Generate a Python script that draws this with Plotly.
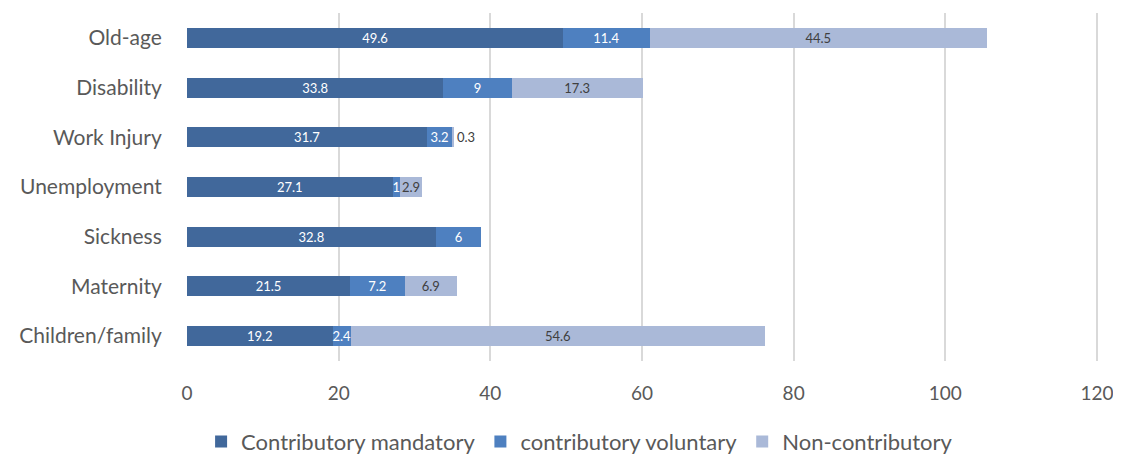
import plotly.graph_objects as go

categories = ["Old-age", "Disability", "Work Injury", "Unemployment", "Sickness", "Maternity", "Children/family"]
mandatory = [49.6, 33.8, 31.7, 27.1, 32.8, 21.5, 19.2]
voluntary = [11.4, 9, 3.2, 1, 6, 7.2, 2.4]
noncontrib = [44.5, 17.3, 0.3, 2.9, None, 6.9, 54.6]
x_ticks = [0, 20, 40, 60, 80, 100, 120]

series = [
    ("Contributory mandatory", mandatory, "#41689B", "white"),
    ("contributory voluntary", voluntary, "#4E80C0", "white"),
    ("Non-contributory", noncontrib, "#AAB9D8", "#404040"),
]

FONT = "Lato"
fig = go.Figure()
for i, (name, vals, color, tcol) in enumerate(series):
    if i == 2:
        tpos = ["outside" if (v is not None and v < 1) else "inside" for v in vals]
    else:
        tpos = "inside"
    fig.add_trace(go.Bar(
        y=categories, x=vals, name=name, orientation="h",
        marker=dict(color=color, line=dict(width=0)),
        text=[("" if v is None else f"{v:g}") for v in vals],
        textposition=tpos, insidetextanchor="middle", textangle=0,
        textfont=dict(color=tcol, size=13, family=FONT),
        outsidetextfont=dict(color="#404040", size=13, family=FONT),
        constraintext="none", cliponaxis=False,
    ))

# page body has an 8px margin; figure offset compensates
fig.update_layout(
    barmode="stack", bargap=0.6,
    width=1113, height=447,
    margin=dict(l=179, r=21, t=5, b=94, autoexpand=False),
    plot_bgcolor="white", paper_bgcolor="white",
    font=dict(family=FONT, color="#595959", size=21),
    uniformtext=dict(minsize=13, mode="show"),
    legend=dict(orientation="h", x=0.43, xanchor="center", y=-0.232, yanchor="middle",
                font=dict(size=22, color="#595959"), traceorder="normal",
                itemwidth=30, tracegroupgap=0),
    showlegend=True,
)
fig.update_xaxes(range=[0, 120.4], tickvals=x_ticks, showgrid=True, gridcolor="#D9D9D9",
                 gridwidth=2, zeroline=False, showline=False, automargin=False,
                 ticks="outside", ticklen=15, tickcolor="rgba(0,0,0,0)",
                 ticklabeloverflow="allow",
                 tickfont=dict(size=19, color="#595959"))
fig.update_yaxes(categoryorder="array", categoryarray=categories, autorange="reversed",
                 showgrid=False, showline=False, automargin=False,
                 ticks="outside", ticklen=20, tickcolor="rgba(0,0,0,0)",
                 tickfont=dict(size=21, color="#595959"))

fig.write_html("out.html")
